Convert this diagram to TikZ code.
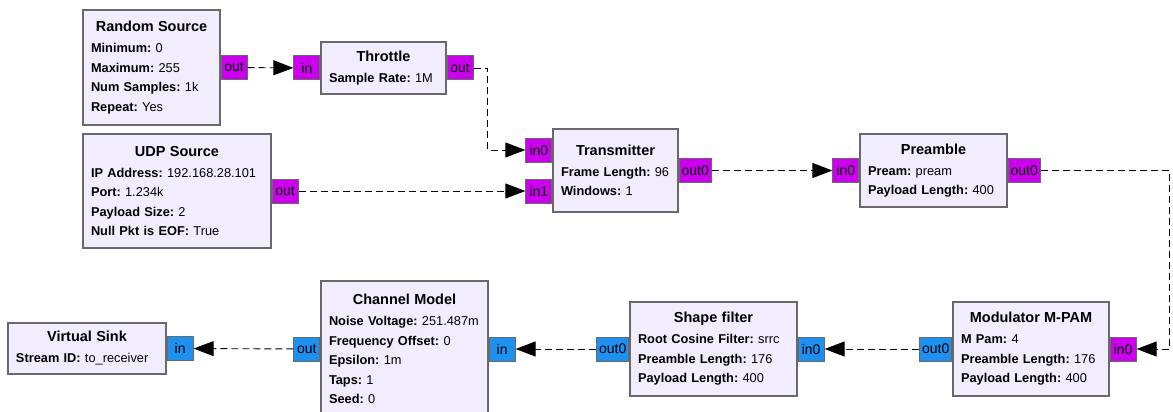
\documentclass[tikz,border=0pt]{standalone}
\usepackage{fontspec}
\setmainfont{Liberation Sans}
\usetikzlibrary{arrows.meta,positioning}
\definecolor{blkfill}{RGB}{241,237,255}
\definecolor{blkdraw}{RGB}{105,105,105}
\definecolor{bytecol}{RGB}{204,0,238}
\definecolor{cpxcol}{RGB}{30,144,240}
\newcommand{\ttl}[1]{\makebox[\hsize]{\fontsize{14.5}{19.5}\selectfont\bfseries #1}\\[1.5pt]}
\newcommand{\prm}[2]{\textbf{#1:}~#2}

\begin{document}
\begin{tikzpicture}[x=1pt,y=-1pt,
  blk/.style={draw=blkdraw,fill=blkfill,line width=1.2pt,align=left,inner xsep=8pt,inner ysep=0pt,
    font=\fontsize{12.8}{19.5}\selectfont},
  bport/.style={draw=blkdraw,fill=bytecol,line width=1pt,minimum width=26pt,minimum height=24pt,
    inner xsep=2.5pt,inner ysep=0pt,font=\fontsize{14}{14}\selectfont},
  cport/.style={bport,fill=cpxcol},
  wire/.style={line width=0.9pt,dash pattern=on 7pt off 4pt,-{Triangle[length=20pt,width=15pt]}}]
  \useasboundingbox (0,0) rectangle (1173,412);
  % blocks, top row
  \node[blk,text width=121pt,minimum height=115pt] (rsrc) at (151.5,67.5)
    {\ttl{Random Source}\prm{Minimum}{0}\\\prm{Maximum}{255}\\\prm{Num Samples}{1k}\\\prm{Repeat}{Yes}};
  \node[blk,text width=109pt,minimum height=52pt] (thr) at (383.5,68)
    {\ttl{Throttle}\prm{Sample Rate}{1M}};
  \node[blk,text width=172pt,minimum height=114pt] (udp) at (177,191)
    {\ttl{UDP Source}\prm{IP Address}{192.168.28.101}\\\prm{Port}{1.234k}\\\prm{Payload Size}{2}\\\prm{Null Pkt is EOF}{True}};
  \node[blk,text width=109pt,minimum height=83pt] (tx) at (615.5,170.5)
    {\ttl{Transmitter}\prm{Frame Length}{96}\\\prm{Windows}{1}};
  \node[blk,text width=131pt,minimum height=73pt] (pre) at (933.5,170.5)
    {\ttl{Preamble}\prm{Pream}{pream}\\\prm{Payload Length}{400}};
  % blocks, bottom row
  \node[blk,text width=140pt,minimum height=94pt] (mod) at (1031,349)
    {\ttl{Modulator M-PAM}\prm{M Pam}{4}\\\prm{Preamble Length}{176}\\\prm{Payload Length}{400}};
  \node[blk,text width=151pt,minimum height=94pt] (shp) at (713.5,349)
    {\ttl{Shape filter}\prm{Root Cosine Filter}{srrc}\\\prm{Preamble Length}{176}\\\prm{Payload Length}{400}};
  \node[blk,text width=151pt,minimum height=136pt] (chn) at (404.5,349)
    {\ttl{Channel Model}\prm{Noise Voltage}{251.487m}\\\prm{Frequency Offset}{0}\\\prm{Epsilon}{1m}\\\prm{Taps}{1}\\\prm{Seed}{0}};
  \node[blk,text width=142pt,minimum height=51pt] (vsk) at (87,348.5)
    {\ttl{Virtual Sink}\prm{Stream ID}{to\_receiver}};
  % ports
  \node[bport,right=0pt of rsrc] (rsrc-out) {out};
  \node[bport,left=0pt of thr] (thr-in) {in};
  \node[bport,right=0pt of thr] (thr-out) {out};
  \node[bport,right=0pt of udp] (udp-out) {out};
  \node[bport,left=0pt of tx,yshift=20.5pt] (tx-in0) {in0};
  \node[bport,left=0pt of tx,yshift=-20.5pt] (tx-in1) {in1};
  \node[bport,right=0pt of tx] (tx-out0) {out0};
  \node[bport,left=0pt of pre] (pre-in0) {in0};
  \node[bport,right=0pt of pre] (pre-out0) {out0};
  \node[bport,right=0pt of mod] (mod-in0) {in0};
  \node[cport,left=0pt of mod] (mod-out0) {out0};
  \node[cport,right=0pt of shp] (shp-in0) {in0};
  \node[cport,left=0pt of shp] (shp-out0) {out0};
  \node[cport,right=0pt of chn] (chn-in) {in};
  \node[cport,left=0pt of chn] (chn-out) {out};
  \node[cport,right=0pt of vsk] (vsk-in) {in};
  % connections
  \draw[wire] (rsrc-out) -- (thr-in);
  \draw[wire] (thr-out.east) -- ++(14,0) |- (tx-in0.west);
  \draw[wire] (udp-out) -- (tx-in1);
  \draw[wire] (tx-out0) -- (pre-in0);
  \draw[wire] (pre-out0.east) -- ++(129,0) |- (mod-in0.east);
  \draw[wire] (mod-out0) -- (shp-in0);
  \draw[wire] (shp-out0) -- (chn-in);
  \draw[wire] (chn-out) -- (vsk-in);
\end{tikzpicture}
\end{document}
